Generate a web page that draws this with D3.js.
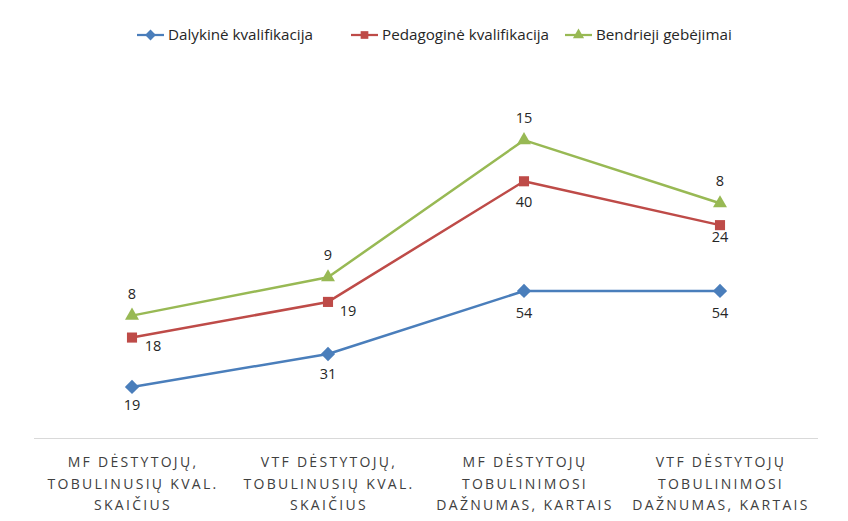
<!DOCTYPE html>
<html>
<head>
<meta charset="utf-8">
<script src="https://cdn.jsdelivr.net/npm/d3@7"></script>
<style>
  body { margin: 0; background: #fff; }
  svg text { font-family: "Open Sans", sans-serif; }
</style>
</head>
<body>
<svg id="chart" width="848" height="521"></svg>
<script>
// chart values
var categories = [
    ["MF DĖSTYTOJŲ,", "TOBULINUSIŲ KVAL.", "SKAIČIUS"],
    ["VTF DĖSTYTOJŲ,", "TOBULINUSIŲ KVAL.", "SKAIČIUS"],
    ["MF DĖSTYTOJŲ", "TOBULINIMOSI", "DAŽNUMAS, KARTAIS"],
    ["VTF DĖSTYTOJŲ", "TOBULINIMOSI", "DAŽNUMAS, KARTAIS"]
];
var seriesNames = ["Dalykinė kvalifikacija", "Pedagoginė kvalifikacija", "Bendrieji gebėjimai"];
var dalykine = [19, 31, 54, 54];
var pedagogine = [18, 19, 40, 24];
var bendrieji = [8, 9, 15, 8];

var colors = ["#4A7EBB", "#BE4B48", "#98B954"];
var symbols = [d3.symbolDiamond2, d3.symbolSquare2, d3.symbolTriangle2];
// label offsets (dx, dy of text baseline) per series and point
var labelOffsets = [
    [[0, 23], [0, 25], [0, 27], [0, 27]],
    [[21, 13], [20, 14], [0, 26], [0, 17]],
    [[0, -17], [0, -17], [0, -17], [0, -17]]
];

var svg = d3.select("#chart");

var x = d3.scaleBand()
    .domain(d3.range(categories.length))
    .range([34, 818]);

var y = d3.scaleLinear()
    .domain([0, 120])
    .range([439, 110]);

// stacked line series
var rows = categories.map(function (c, i) {
    return { i: i, a: dalykine[i], b: pedagogine[i], c: bendrieji[i] };
});
var stack = d3.stack().keys(["a", "b", "c"]);
var stacked = stack(rows);

// axis line
svg.append("line")
    .attr("x1", 34).attr("x2", 818)
    .attr("y1", y(0) - 0.5).attr("y2", y(0) - 0.5)
    .attr("stroke", "#d9d9d9")
    .attr("stroke-width", 1);

// category labels
var catG = svg.append("g");
categories.forEach(function (lines, i) {
    var t = catG.append("text")
        .attr("x", x(i) + x.bandwidth() / 2)
        .attr("y", 467)
        .attr("text-anchor", "middle")
        .attr("font-size", 14)
        .attr("letter-spacing", "2.3px")
        .attr("fill", "#404040");
    lines.forEach(function (l, j) {
        t.append("tspan")
            .attr("x", x(i) + x.bandwidth() / 2 + 1)
            .attr("dy", j === 0 ? 0 : 21.5)
            .text(l);
    });
});

var line = d3.line()
    .x(function (d) { return x(d.data.i) + x.bandwidth() / 2; })
    .y(function (d) { return y(d[1]); });

var rawValues = [dalykine, pedagogine, bendrieji];

stacked.forEach(function (s, k) {
    var g = svg.append("g");
    g.append("path")
        .datum(s)
        .attr("d", line)
        .attr("fill", "none")
        .attr("stroke", colors[k])
        .attr("stroke-width", 2.5)
        .attr("stroke-linejoin", "round");

    g.selectAll("path.marker")
        .data(s)
        .enter().append("path")
        .attr("class", "marker")
        .attr("transform", function (d) {
            return "translate(" + (x(d.data.i) + x.bandwidth() / 2) + "," + y(d[1]) + ")";
        })
        .attr("d", d3.symbol().type(symbols[k]).size(k === 2 ? 140 : 130))
        .attr("fill", colors[k]);

    g.selectAll("text.lbl")
        .data(s)
        .enter().append("text")
        .attr("class", "lbl")
        .attr("x", function (d, i) { return x(d.data.i) + x.bandwidth() / 2 + labelOffsets[k][i][0]; })
        .attr("y", function (d, i) { return y(d[1]) + labelOffsets[k][i][1]; })
        .attr("text-anchor", "middle")
        .attr("font-size", 14.5)
        .attr("fill", "#262626")
        .text(function (d, i) { return rawValues[k][i]; });
});

// legend
var legendX = [137, 351, 565];
var legend = svg.append("g");
seriesNames.forEach(function (name, k) {
    var lg = legend.append("g").attr("transform", "translate(" + legendX[k] + ",35)");
    lg.append("line")
        .attr("x1", 0).attr("x2", 27)
        .attr("stroke", colors[k])
        .attr("stroke-width", 2.25);
    lg.append("path")
        .attr("transform", "translate(13.5,0)")
        .attr("d", d3.symbol().type(symbols[k]).size(k === 2 ? 90 : 75))
        .attr("fill", colors[k]);
    lg.append("text")
        .attr("x", 31)
        .attr("y", 5)
        .attr("font-size", 15.2)
        .attr("fill", "#262626")
        .text(name);
});
</script>
</body>
</html>
